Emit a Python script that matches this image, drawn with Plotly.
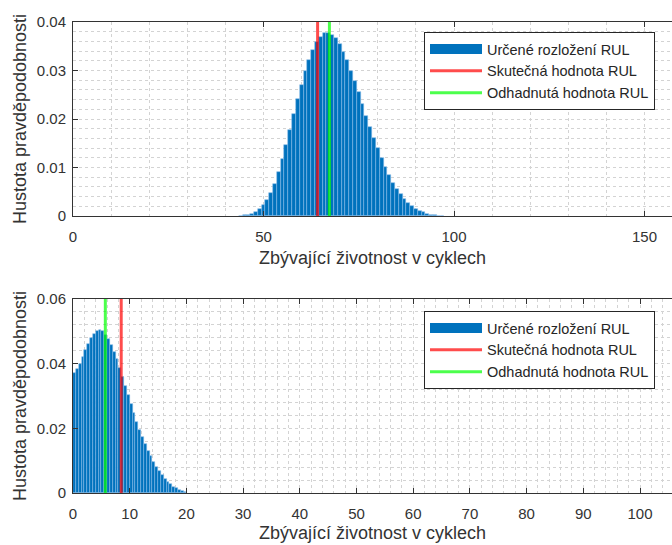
import plotly.graph_objects as go

# ---------------- data ----------------
top_bins = [44, 45, 46, 47, 48, 49, 50, 51, 52, 53, 54, 55, 56, 57, 58, 59, 60,
            61, 62, 63, 64, 65, 66, 67, 68, 69, 70, 71, 72, 73, 74, 75, 76, 77,
            78, 79, 80, 81, 82, 83, 84, 85, 86, 87, 88, 89, 90, 91, 92, 93, 94,
            95, 96, 97]
top_pdf = [0.0001, 0.0002, 0.0003, 0.0005, 0.0009, 0.0014, 0.0022, 0.0033,
           0.0047, 0.0066, 0.0090, 0.0117, 0.0147, 0.0178, 0.0210, 0.0241,
           0.0271, 0.0298, 0.0322, 0.0342, 0.0358, 0.0370, 0.0377, 0.0378,
           0.0374, 0.0366, 0.0354, 0.0339, 0.0321, 0.0300, 0.0278, 0.0255,
           0.0231, 0.0207, 0.0184, 0.0161, 0.0140, 0.0120, 0.0101, 0.0084,
           0.0069, 0.0056, 0.0045, 0.0035, 0.0027, 0.0020, 0.0015, 0.0011,
           0.0008, 0.0005, 0.0003, 0.0002, 0.0001, 0.00005]
top_true_rul = 64.2
top_est_rul = 67.3

bottom_bins = [0.25, 0.75, 1.25, 1.75, 2.25, 2.75, 3.25, 3.75, 4.25, 4.75,
               5.25, 5.75, 6.25, 6.75, 7.25, 7.75, 8.25, 8.75, 9.25, 9.75,
               10.25, 10.75, 11.25, 11.75, 12.25, 12.75, 13.25, 13.75, 14.25, 14.75,
               15.25, 15.75, 16.25, 16.75, 17.25, 17.75, 18.25, 18.75, 19.25, 19.75]
bottom_pdf = [0.0370, 0.0383, 0.0400, 0.0420, 0.0441, 0.0461, 0.0478, 0.0492,
              0.0501, 0.0504, 0.0500, 0.0490, 0.0476, 0.0458, 0.0437, 0.0413,
              0.0387, 0.0360, 0.0332, 0.0303, 0.0275, 0.0247, 0.0221, 0.0196,
              0.0173, 0.0152, 0.0131, 0.0113, 0.0096, 0.0081, 0.0067, 0.0055,
              0.0044, 0.0035, 0.0027, 0.0020, 0.0014, 0.0009, 0.0005, 0.0002]
bottom_true_rul = 8.5
bottom_est_rul = 5.7

top_xticks = [0, 50, 100, 150]
top_yticks = [0, 0.01, 0.02, 0.03, 0.04]
top_yticktext = ["0", "0.01", "0.02", "0.03", "0.04"]
bottom_xticks = [0, 10, 20, 30, 40, 50, 60, 70, 80, 90, 100]
bottom_yticks = [0, 0.02, 0.04, 0.06]
bottom_yticktext = ["0", "0.02", "0.04", "0.06"]

name_dist = "Určené rozložení RUL"
name_true = "Skutečná hodnota RUL"
name_est = "Odhadnutá hodnota RUL"
x_title = "Zbývající životnost v cyklech"
y_title = "Hustota pravděpodobnosti"

# ---------------- style ----------------
W, H = 672, 545
FONT = "Liberation Sans, Arial, sans-serif"
AX = "#333333"
GRID = "#d3d3d3"
BAR = "#0072BD"
RED = "rgba(255,0,0,0.7)"
GREEN = "rgba(0,255,0,0.7)"

fig = go.Figure()


def add_panel(bins, pdf, width, true_v, est_v, ytop, xa, ya, leg):
    fig.add_trace(go.Bar(x=bins, y=pdf, width=width, xaxis=xa, yaxis=ya,
                         marker=dict(color=BAR,
                                     line=dict(color="rgba(140,190,235,0.9)", width=0.6)),
                         showlegend=False, name=name_dist))
    # legend proxy for the bar patch
    fig.add_trace(go.Scatter(x=[None], y=[None], xaxis=xa, yaxis=ya, mode="lines",
                             line=dict(color=BAR, width=14), name=name_dist,
                             legend=leg))
    fig.add_trace(go.Scatter(x=[true_v, true_v], y=[0, ytop], xaxis=xa, yaxis=ya,
                             mode="lines", line=dict(color=RED, width=3),
                             name=name_true, legend=leg))
    fig.add_trace(go.Scatter(x=[est_v, est_v], y=[0, ytop], xaxis=xa, yaxis=ya,
                             mode="lines", line=dict(color=GREEN, width=3),
                             name=name_est, legend=leg))


add_panel(top_bins, top_pdf, 1.0, top_true_rul, top_est_rul, 0.04, "x", "y", "legend")
add_panel(bottom_bins, bottom_pdf, 0.5, bottom_true_rul, bottom_est_rul, 0.06, "x2", "y2", "legend2")

x0 = 73 / W


def yd(top_px, bot_px):
    return [1 - bot_px / H, 1 - top_px / H]


common_x = dict(showline=True, linecolor=AX, linewidth=1, mirror="ticks",
                ticks="inside", ticklen=5, tickcolor=AX, tickwidth=1,
                showgrid=True, gridcolor=GRID, griddash="3px,3px", gridwidth=1,
                zeroline=False, automargin=False, ticklabelstandoff=7,
                tickfont=dict(family=FONT, size=15, color=AX))
common_y = dict(showline=True, linecolor=AX, linewidth=1, mirror=False,
                ticks="inside", ticklen=5, tickcolor=AX, tickwidth=1,
                showgrid=True, gridcolor=GRID, griddash="3px,3px", gridwidth=1,
                zeroline=False, automargin=False, ticklabelstandoff=3,
                tickfont=dict(family=FONT, size=15, color=AX),
                title=dict(text=y_title, font=dict(family=FONT, size=18, color=AX),
                           standoff=5))

fig.update_layout(
    width=W, height=H, margin=dict(l=0, r=0, t=0, b=0, autoexpand=False),
    paper_bgcolor="white", plot_bgcolor="white",
    font=dict(family=FONT, color=AX), bargap=0,
    xaxis=dict(common_x, domain=[x0, 1], range=[0, (W - 73) / 3.81],
               tickvals=top_xticks, anchor="y",
               title=dict(text=x_title, font=dict(family=FONT, size=18, color=AX),
                          standoff=7),
               minor=dict(dtick=10, tick0=0, showgrid=True, gridcolor=GRID,
                          griddash="3px,3px", ticks="")),
    yaxis=dict(common_y, domain=yd(22, 216), range=[0, 0.04], anchor="x",
               tickvals=top_yticks, ticktext=top_yticktext,
               minor=dict(dtick=0.002, tick0=0, showgrid=True, gridcolor=GRID,
                          griddash="3px,3px", ticks="")),
    xaxis2=dict(common_x, domain=[x0, 1], range=[0, (W - 73) / 5.67],
                tickvals=bottom_xticks, anchor="y2",
                title=dict(text=x_title, font=dict(family=FONT, size=18, color=AX),
                           standoff=5),
                minor=dict(dtick=2, tick0=0, showgrid=True, gridcolor=GRID,
                           griddash="3px,3px", ticks="")),
    yaxis2=dict(common_y, domain=yd(299, 493), range=[0, 0.06], anchor="x2",
                tickvals=bottom_yticks, ticktext=bottom_yticktext,
                minor=dict(dtick=0.004, tick0=0, showgrid=True, gridcolor=GRID,
                           griddash="3px,3px", ticks="")),
    legend=dict(x=424 / W, y=1 - 32 / H, xanchor="left", yanchor="top",
                bgcolor="white", bordercolor="#262626", borderwidth=1,
                font=dict(family=FONT, size=14.5, color="#262626"),
                itemwidth=52, tracegroupgap=0),
    legend2=dict(x=424 / W, y=1 - 311 / H, xanchor="left", yanchor="top",
                 bgcolor="white", bordercolor="#262626", borderwidth=1,
                 font=dict(family=FONT, size=14.5, color="#262626"),
                 itemwidth=52, tracegroupgap=0),
)

fig.write_html("out.html")
